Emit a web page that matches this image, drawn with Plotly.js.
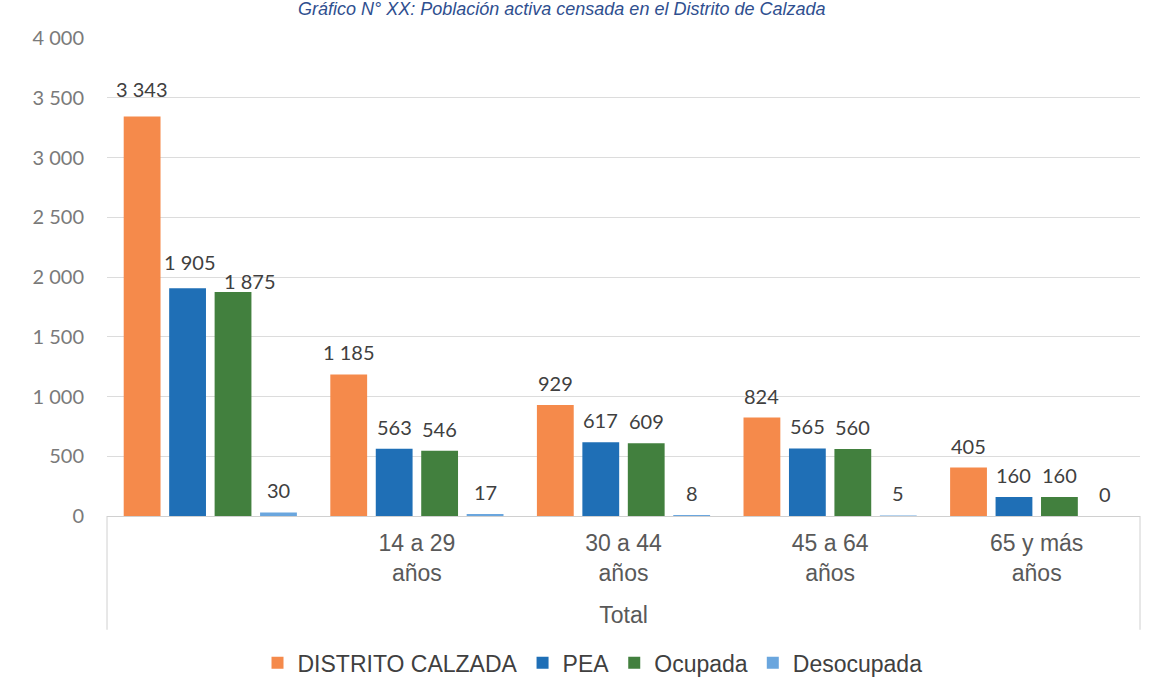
<!DOCTYPE html>
<html>
<head>
<meta charset="utf-8">
<script src="https://cdn.plot.ly/plotly-3.0.1.min.js"></script>
<style>
  html, body { margin: 0; padding: 0; background: #fff; }
  #chart { width: 1164px; height: 697px; }
</style>
</head>
<body>
<div id="chart"></div>
<script>
// datos
const categories = ['Total', '14 a 29 años', '30 a 44 años', '45 a 64 años', '65 y más años'];
const tickLabels = ['', '14 a 29<br>años', '30 a 44<br>años', '45 a 64<br>años', '65 y más<br>años'];
const distrito   = [3343, 1185, 929, 824, 405];
const pea        = [1905, 563, 617, 565, 160];
const ocupada    = [1875, 546, 609, 560, 160];
const desocupada = [30, 17, 8, 5, 0];

const seriesNames  = ['DISTRITO CALZADA', 'PEA', 'Ocupada', 'Desocupada'];
const seriesValues = [distrito, pea, ocupada, desocupada];
const seriesColors = ['#f58a4b', '#1f6fb6', '#42803e', '#6aa6de'];

const W = 1164, H = 697;
const M = { t: 38, b: 181, l: 107, r: 24 };
const BARGAP = 0.12;
const arial = '"Liberation Sans", Arial, sans-serif';
const labelFont = { family: 'Lato, "Open Sans", sans-serif', size: 20, color: '#404040' };

// ancho de cada barra dentro del grupo, en píxeles
const catW = (W - M.l - M.r) / categories.length;
const slotW = catW * (1 - BARGAP) / seriesNames.length;

// pequeños ajustes de etiquetas (como en el original, para que no se pisen)
const nudge = { '0-0': { dx: 0, dy: 6 }, '1-0': { dx: 2, dy: 4 }, '2-0': { dx: 17, dy: -11 } };

const traces = seriesNames.map((name, i) => ({
  type: 'bar',
  name: name,
  x: categories,
  y: seriesValues[i],
  marker: { color: seriesColors[i] },
  hoverinfo: 'x+y+name'
}));

const annotations = [];
seriesValues.forEach((vals, i) => {
  vals.forEach((v, j) => {
    const n = nudge[i + '-' + j] || { dx: 0, dy: 0 };
    annotations.push({
      x: categories[j], y: v, xref: 'x', yref: 'y',
      text: v.toLocaleString('en-US').replace(/,/g, ' '),
      showarrow: false, xanchor: 'center', yanchor: 'middle',
      xshift: (i - (seriesNames.length - 1) / 2) * slotW + n.dx,
      yshift: 22 + n.dy,
      font: labelFont
    });
  });
});

annotations.push({
  text: 'Gráfico N° XX: Población activa censada en el Distrito de Calzada',
  xref: 'paper', yref: 'paper', x: 0.44, y: 1.06, xanchor: 'center', yanchor: 'middle',
  showarrow: false,
  font: { family: arial, size: 18, color: '#2f4f8f', style: 'italic' }
});

const layout = {
  width: W, height: H,
  paper_bgcolor: '#ffffff', plot_bgcolor: '#ffffff',
  separators: ', ',
  margin: Object.assign({ autoexpand: false }, M),
  barmode: 'group',
  bargap: BARGAP,
  bargroupgap: 0.19,
  font: { family: arial, color: '#595959' },
  xaxis: {
    type: 'category',
    tickvals: categories,
    ticktext: tickLabels,
    tickfont: { family: arial, size: 23, color: '#595959' },
    showline: true, linecolor: '#d0d0d0', linewidth: 1,
    ticks: '', ticklabelstandoff: 6,
    automargin: false,
    title: { text: 'Total', font: { family: arial, size: 23, color: '#595959' }, standoff: 22 }
  },
  yaxis: {
    range: [0, 4000],
    dtick: 500,
    tickformat: ',',
    tickfont: { family: 'Lato, "Open Sans", sans-serif', size: 20, color: '#7a7a7a' },
    gridcolor: '#dcdcdc', gridwidth: 1,
    zeroline: false, showline: false,
    automargin: false,
    ticklabelstandoff: 22
  },
  legend: {
    orientation: 'h', x: 0.47, xanchor: 'center', y: -0.262, yanchor: 'top',
    font: { family: arial, size: 23, color: '#404040' },
    itemwidth: 30, traceorder: 'normal'
  },
  shapes: [
    { type: 'line', xref: 'paper', yref: 'paper', x0: 0, x1: 0, y0: 0, y1: -0.238, line: { color: '#d0d0d0', width: 1 } },
    { type: 'line', xref: 'paper', yref: 'paper', x0: 1, x1: 1, y0: 0, y1: -0.238, line: { color: '#d0d0d0', width: 1 } }
  ],
  annotations: annotations,
  showlegend: true
};

Plotly.newPlot('chart', traces, layout, { displayModeBar: false, staticPlot: true });
</script>
</body>
</html>
